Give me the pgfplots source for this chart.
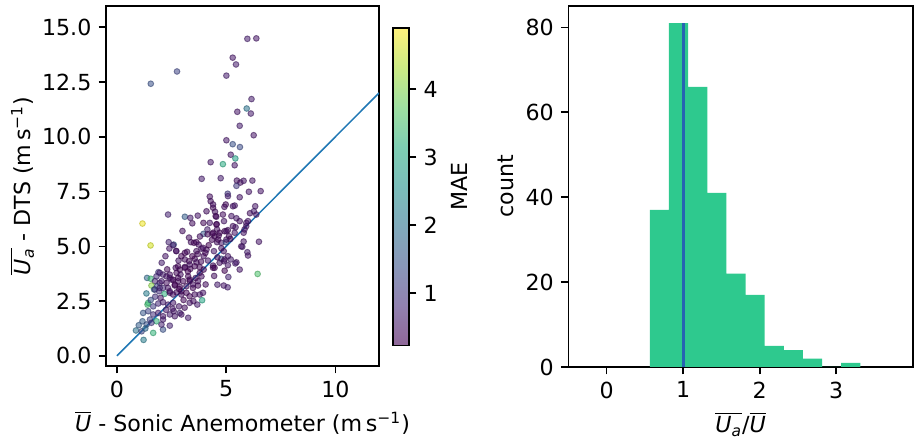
\documentclass[border=0pt]{standalone}
\usepackage{fontspec}
\setmainfont{DejaVu Sans}
\usepackage{pgfplots}
\usepackage{pgfplotstable}
\pgfplotsset{compat=1.18}

\definecolor{tabblue}{HTML}{1F77B4}
\definecolor{histgreen}{RGB}{46,201,142}
\definecolor{meanblue}{RGB}{38,100,178}

% viridis drawn at alpha 0.6 over white, for the colorbar
\pgfplotsset{
  colormap={paleviridis}{rgb255=(143,103,152) rgb255=(145,129,176) rgb255=(137,151,185)
    rgb255=(128,170,187) rgb255=(122,189,186) rgb255=(126,206,179) rgb255=(158,223,161)
    rgb255=(204,234,132) rgb255=(254,241,124)},
  mplaxis/.style={
    scale only axis,
    font=\fontsize{10.8}{13}\selectfont,
    axis line style={line width=0.8pt},
    every tick/.append style={black, line width=0.8pt},
    tick align=outside, major tick length=3.6pt,
    xtick pos=left, ytick pos=left,
    /pgf/number format/assume math mode=true,
  },
}

% x (m/s), y (m/s), MAE
\pgfplotstableread{
x y c
5.97 14.47 0.6
6.38 14.49 0.5
5.30 13.61 0.5
5.45 13.30 0.6
2.75 12.98 1.2
1.55 12.42 1.4
5.01 12.79 0.6
6.16 11.72 0.6
5.94 11.29 2.0
5.51 11.14 0.5
6.13 11.06 0.6
5.62 10.50 0.6
6.26 10.07 0.5
5.01 9.84 0.5
5.30 9.66 1.4
5.63 9.53 1.3
5.21 9.18 0.5
5.42 9.01 2.9
4.29 8.84 0.5
4.85 8.75 3.1
5.39 8.70 0.5
3.88 8.08 0.6
4.75 8.11 0.6
5.49 8.00 0.4
5.65 7.91 0.4
5.80 7.99 0.5
6.20 8.00 0.5
5.47 7.76 1.0
6.04 7.49 0.5
6.58 7.52 0.5
4.25 7.27 0.4
5.07 7.40 1.0
5.08 7.29 0.6
5.62 7.24 0.5
4.29 7.06 0.4
4.40 6.76 0.3
4.98 6.91 0.3
4.92 6.80 0.4
5.39 6.86 0.5
6.33 6.83 0.5
4.49 6.58 0.4
2.34 6.45 0.7
3.11 6.35 1.6
3.36 6.30 0.6
1.17 6.04 4.8
4.55 6.35 0.5
6.09 6.51 0.4
6.27 6.60 0.6
5.47 6.28 0.5
5.62 6.15 0.4
6.00 6.15 0.5
3.96 6.07 0.3
4.25 6.07 0.5
4.57 6.01 0.4
4.90 6.15 0.5
4.14 5.77 0.6
4.58 5.77 0.4
4.93 5.69 0.3
5.08 5.74 0.4
5.43 5.87 0.5
5.92 5.92 0.5
3.96 5.57 1.5
4.37 5.57 0.3
4.47 5.46 0.3
4.66 5.49 0.3
5.13 5.46 0.3
5.19 5.34 0.3
5.80 5.62 0.5
1.54 5.04 4.6
2.37 5.19 0.7
2.60 5.08 1.5
3.39 5.19 0.4
3.53 5.16 0.3
3.64 5.19 0.3
3.74 5.08 0.4
4.58 5.19 0.4
4.78 5.16 0.5
4.99 5.19 1.3
5.80 5.22 0.5
6.50 5.21 0.5
5.74 4.98 0.6
2.71 4.79 0.5
3.21 4.75 0.4
3.64 4.78 0.4
3.87 4.89 0.5
4.10 4.85 0.4
4.44 4.78 0.5
4.78 4.91 0.4
4.89 4.78 0.4
5.97 4.73 0.6
6.00 4.58 0.5
2.22 4.55 0.5
3.11 4.40 0.4
3.30 4.32 0.3
3.56 4.43 0.3
3.64 4.27 0.4
3.97 4.55 0.4
4.17 4.35 0.5
4.78 4.43 1.5
4.90 4.32 0.5
5.21 4.40 0.6
5.47 4.27 0.5
2.05 4.25 0.6
2.82 4.35 0.5
4.40 4.12 0.4
4.70 4.25 0.4
5.08 4.14 0.5
5.42 4.22 0.6
2.69 4.02 0.4
2.88 3.94 0.3
3.11 4.06 0.4
3.36 3.97 0.3
3.79 4.05 0.3
3.97 3.94 0.3
4.40 4.02 0.3
4.93 3.89 0.2
5.62 3.94 0.5
6.44 3.74 3.6
1.90 3.82 1.0
2.11 3.71 0.6
2.27 3.63 0.5
2.42 3.56 0.5
2.91 3.71 0.4
3.26 3.63 0.3
3.79 3.79 0.3
3.87 3.63 0.4
1.38 3.56 1.8
1.55 3.52 3.4
1.74 3.41 0.7
1.96 3.33 0.6
2.50 3.48 0.5
2.80 3.41 0.4
3.33 3.41 0.3
3.71 3.41 0.4
1.58 3.21 4.1
1.84 3.18 1.2
2.11 3.10 0.8
2.34 3.10 0.5
2.65 3.21 0.4
2.88 3.15 0.3
3.18 3.18 0.4
3.48 3.10 0.3
3.71 3.21 0.3
4.06 3.26 0.4
4.89 3.21 0.5
5.07 3.13 0.6
1.70 3.03 2.0
1.93 2.95 0.9
2.18 2.83 3.2
2.42 2.88 0.5
2.73 2.90 0.4
2.95 2.80 0.4
3.33 2.72 0.3
3.56 2.80 0.4
3.79 2.80 0.5
3.94 2.88 0.5
1.40 2.34 3.5
1.66 2.26 1.1
1.89 2.39 0.8
2.11 2.45 0.6
2.34 2.34 0.5
2.57 2.42 0.5
2.84 2.26 0.5
3.33 2.42 0.5
3.68 2.34 0.6
3.90 2.54 3.0
1.20 1.96 1.5
1.43 2.04 1.2
1.66 1.89 0.9
1.89 1.96 0.6
2.11 1.81 0.5
2.42 1.89 0.6
2.60 2.04 0.5
2.88 1.96 0.7
1.17 1.58 1.6
1.51 1.66 1.2
1.81 1.58 3.3
2.11 1.66 0.6
0.87 1.16 2.0
1.13 1.12 1.2
1.66 1.05 3.3
2.11 1.20 1.4
2.42 1.38 0.7
1.22 0.73 2.2
2.57 5.05 0.6
2.72 4.78 0.4
3.11 4.70 0.3
2.80 4.09 0.3
3.11 4.02 0.3
3.33 4.17 0.4
3.56 4.09 0.3
1.96 3.79 0.6
2.42 3.71 0.4
2.73 3.79 0.3
1.81 3.63 0.8
2.04 3.41 0.6
2.27 3.33 0.4
2.57 3.48 0.3
2.80 3.56 0.3
3.03 3.41 0.3
3.33 3.48 0.3
3.48 3.26 0.4
1.74 3.03 0.9
1.96 3.10 0.7
2.42 2.95 0.4
2.57 2.80 0.4
2.95 2.95 0.3
3.18 2.88 0.3
4.40 6.91 0.4
5.31 6.83 0.5
6.38 6.45 0.5
4.10 6.60 0.4
4.52 6.38 0.3
4.85 6.45 0.4
5.24 6.38 0.5
5.92 6.07 0.5
4.55 6.00 0.3
5.31 5.92 0.4
4.40 5.62 0.3
4.70 5.62 0.3
5.01 5.69 0.4
5.39 5.62 0.5
5.84 5.77 0.5
4.63 5.31 0.3
5.01 5.31 0.4
3.94 4.93 0.4
4.93 4.40 0.4
5.08 4.55 0.5
5.69 5.00 0.5
4.47 4.02 0.3
1.43 2.42 3.4
2.65 1.81 0.5
2.95 1.89 0.5
3.26 1.74 0.6
1.36 1.43 1.4
1.58 1.51 1.0
2.04 1.43 0.7
2.30 3.95 0.3
2.65 3.25 0.2
2.85 3.05 0.2
3.05 2.55 0.3
3.25 3.85 0.2
3.45 4.55 0.2
3.60 3.55 0.3
3.70 4.65 0.3
3.85 4.30 0.3
4.05 4.70 0.3
4.20 5.05 0.2
4.35 5.30 0.3
4.60 4.50 0.3
4.15 5.55 0.3
3.80 5.45 0.4
3.30 5.40 0.4
2.95 4.55 0.3
2.40 4.90 0.5
3.00 5.70 0.4
3.45 6.05 0.4
3.70 6.40 0.5
2.00 2.65 0.5
2.55 2.15 0.5
3.10 2.20 0.4
3.50 2.50 0.4
1.75 2.70 0.9
1.55 2.55 1.4
1.35 2.85 2.2
1.30 1.25 1.8
1.00 1.40 1.6
2.25 2.10 0.5
4.45 3.65 0.4
5.10 3.60 0.7
4.60 3.25 0.6
}\scatterdata

% histogram of U_a/U: left bin edges and counts (last row closes the final bin)
\pgfplotstableread{
edge count
0.565 37
0.815 81
1.065 66
1.315 41
1.565 22
1.815 17
2.065 5
2.315 4
2.565 2
2.815 0
3.065 1
3.315 1
}\histdata

\begin{document}
\begin{tikzpicture}
\path[use as bounding box] (-51.7pt,-38pt) rectangle (394.1pt,178.5pt);

\begin{axis}[mplaxis,
  at={(0,0)}, anchor=south west,
  width=133.2pt, height=175.6pt,
  xmin=-0.5, xmax=12, ymin=-0.46, ymax=15.97,
  xtick={0,5,10}, ytick={0,2.5,...,15},
  yticklabel style={/pgf/number format/.cd, fixed, fixed zerofill, precision=1},
  xlabel={$\overline{\mbox{\itshape U}}$ - Sonic Anemometer (m\,s\textsuperscript{−1})},
  ylabel={$\overline{\mbox{\itshape U\textsubscript{a}}}$ - DTS (m\,s\textsuperscript{−1})},
  ylabel shift=-3pt,
  colormap/viridis,
  point meta min=0.23, point meta max=4.9,
  colorbar right, colorbar/width=7.8pt,
  colorbar shift/.style={xshift=6.8pt},
  colorbar style={
    colormap name=paleviridis,
    at={(parent axis.east)}, anchor=west, yshift=-0.4pt,
    height=155pt,
    font=\fontsize{10.8}{13}\selectfont,
    ytick={1,2,3,4},
    ytick pos=right, yticklabel pos=right,
    tick align=outside, major tick length=3.6pt,
    every tick/.append style={black, line width=0.8pt},
    axis line style={line width=0.8pt},
    ylabel={MAE},
    /pgf/number format/assume math mode=true,
  },
]
\addplot[scatter, only marks, scatter src=explicit,
  mark=*, mark size=1.4pt,
  mark options={line width=0.45pt, fill opacity=0.55, draw opacity=0.6}]
  table[x=x, y=y, meta=c] {\scatterdata};
\addplot[tabblue, line width=0.75pt] coordinates {(0,0) (12,12)};
\end{axis}

\begin{axis}[mplaxis,
  at={(225.5pt,-0.5pt)}, anchor=south west,
  width=168pt, height=176.1pt,
  xmin=-0.5, xmax=4.0, ymin=0, ymax=85.05,
  xtick={0,1,2,3}, ytick={0,20,...,80},
  xlabel={$\overline{\mbox{\itshape U\textsubscript{a}}}\mbox{/}\overline{\mbox{\itshape U}}$},
  ylabel={count},
  ylabel shift=-1pt,
]
\addplot[ybar interval, fill=histgreen, draw=none] table[x=edge, y=count] {\histdata};
\addplot[meanblue, line width=1.6pt] coordinates {(1,0) (1,81)};
\end{axis}
\end{tikzpicture}
\end{document}
